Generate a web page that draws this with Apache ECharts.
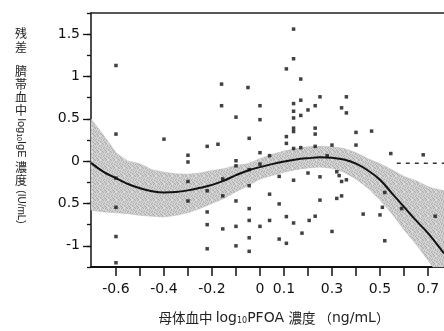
<!DOCTYPE html>
<html><head><meta charset="utf-8">
<script src="https://cdn.jsdelivr.net/npm/echarts@6/dist/echarts.min.js"></script>
<style>html,body{margin:0;padding:0;background:#fff}#c{width:444px;height:331px}</style>
</head><body><div id="c"></div>
<script>
// ---- axis ticks / labels ----
const xTickValues = [-0.6,-0.5,-0.4,-0.3,-0.2,-0.1,0,0.1,0.2,0.3,0.4,0.5,0.6,0.7];
const xLabelValues = [-0.6,-0.4,-0.2,0,0.1,0.3,0.5,0.7];
const xLabelTexts = ['-0.6','-0.4','-0.2','0','0.1','0.3','0.5','0.7'];
const yMinorTickValues = [-1.25,-1,-0.75,-0.5,-0.25,0,0.25,0.5,0.75,1,1.25,1.5,1.75];
const yLabelValues = [-1,-0.5,0,0.5,1,1.5];
const yLabelTexts = ['-1','0.5','0','0.5','1','1.5'];

// ---- scatter points (residuals) ----
const pointsX = [-0.60,-0.60,-0.40,0.14,0.14,0.11,0.17,-0.16,-0.05,0.25,0.36,0.14,0.17,0.23,-0.16,0.00,0.14,0.20,0.17,-0.10,0.00,0.14,0.34,0.36,0.14,0.14,0.23,0.23,-0.045,0.11,0.40,0.465,-0.30,-0.30,-0.22,-0.175,0.11,0.00,0.04,0.14,0.17,0.23,0.30,0.40,0.545,0.68,0.28,
  -0.10,-0.10,0.00,-0.045,0.08,0.14,0.20,0.25,-0.045,0.32,0.33,0.34,0.36,-0.60,-0.30,-0.155,-0.22,-0.60,-0.30,
  -0.22,-0.22,-0.60,-0.22,-0.60,-0.155,-0.10,-0.10,-0.045,-0.045,-0.045,-0.045,-0.10,-0.155,0.04,0.08,0.25,0.11,0.04,0.23,0.205,0.00,0.14,0.175,0.08,0.11,0.32,0.34,0.51,0.43,0.50,0.30,0.52,0.59,0.73,0.52];
const pointsY = [1.13,0.32,0.26,1.56,1.21,1.09,0.97,0.91,0.87,0.76,0.76,0.68,0.72,0.655,0.655,0.655,0.59,0.605,0.54,0.52,0.49,0.51,0.63,0.57,0.39,0.35,0.39,0.32,0.27,0.29,0.34,0.355,0.07,-0.01,0.175,0.20,0.21,0.10,0.065,0.15,0.16,0.175,0.19,0.19,0.09,0.075,0.065,
  0.005,-0.055,-0.035,-0.10,-0.18,-0.225,-0.14,-0.185,-0.29,-0.125,-0.17,-0.24,-0.22,-0.20,-0.24,-0.21,-0.35,-0.545,-0.47,
  -0.60,-0.75,-0.89,-1.035,-1.20,-0.80,-0.77,-1.00,-0.56,-0.70,-0.905,-1.065,-0.47,-0.41,-0.39,-0.505,-0.46,-0.655,-0.70,-0.65,-0.70,-0.77,-0.73,-0.85,-0.92,-0.97,-0.44,-0.41,-0.545,-0.625,-0.635,-0.83,-0.94,-0.56,-0.65,-0.37];

// ---- fitted curve ----
const curveX = [-0.704,-0.65,-0.60,-0.55,-0.50,-0.45,-0.40,-0.35,-0.30,-0.25,-0.20,-0.15,-0.10,-0.05,0.00,0.05,0.10,0.15,0.20,0.25,0.30,0.35,0.40,0.45,0.50,0.55,0.60,0.65,0.70,0.7667];
const curveY = [-0.02,-0.13,-0.20,-0.27,-0.32,-0.355,-0.37,-0.365,-0.345,-0.315,-0.28,-0.23,-0.165,-0.11,-0.07,-0.035,-0.005,0.02,0.035,0.045,0.04,0.02,-0.03,-0.11,-0.22,-0.38,-0.54,-0.70,-0.85,-1.09];

// ---- confidence band ----
const bandX = [-0.704,-0.65,-0.60,-0.55,-0.50,-0.45,-0.40,-0.35,-0.30,-0.25,-0.20,-0.15,-0.10,-0.05,0.00,0.05,0.10,0.15,0.20,0.25,0.30,0.35,0.40,0.45,0.50,0.55,0.60,0.65,0.70,0.72,0.7667];
const bandUpper = [0.50,0.30,0.10,0.00,-0.03,-0.10,-0.13,-0.15,-0.155,-0.14,-0.11,-0.09,-0.05,-0.03,0.03,0.08,0.12,0.15,0.17,0.175,0.17,0.15,0.10,0.03,-0.03,-0.10,-0.18,-0.23,-0.30,-0.32,-0.35];
const bandLower = [-0.58,-0.60,-0.61,-0.62,-0.64,-0.65,-0.66,-0.64,-0.61,-0.56,-0.50,-0.44,-0.36,-0.29,-0.21,-0.17,-0.13,-0.10,-0.08,-0.07,-0.085,-0.13,-0.21,-0.32,-0.46,-0.62,-0.81,-0.98,-1.17,-1.25,-1.25];

// ---- dashed segment ----
const dashX = [0.57,0.7667];
const dashY = [-0.025,-0.025];

const X_MIN = -0.704, X_MAX = 0.7667, Y_MIN = -1.25, Y_MAX = 1.75;
const numFont = 'DejaVu Sans';
const cjkFont = 'Noto Sans CJK JP';

function near(a,b){return Math.abs(a-b)<1e-6;}

// stipple texture for the band (fixed 8x8 tile, deterministic layout)
const tile = document.createElement('canvas');
tile.width = 8; tile.height = 8;
(function(){
  const g = tile.getContext('2d');
  const shades = ['#dcdcdc','#c4c4c4','#acacac','#d0d0d0'];
  const map = [
    '02130312','31020230','10321023','23103201',
    '03210132','20132310','12031203','31200321'];
  for (let y=0;y<8;y++) for (let x=0;x<8;x++){ g.fillStyle = shades[+map[y][x]]; g.fillRect(x,y,1,1); }
})();

const chart = echarts.init(document.getElementById('c'), null, {renderer:'canvas'});

const yTitle = [];
const cjkParts = [['残',33],['差',47],['臍',71],['帯',84],['血',97],['中',110],['濃',167],['度',180]];
cjkParts.forEach(p=>yTitle.push({type:'text', x:21, y:p[1], style:{text:p[0], font:'12px "'+cjkFont+'"', fill:'#222', align:'center', verticalAlign:'middle'}}));
yTitle.push({type:'text', x:21, y:138, rotation:-Math.PI/2, style:{text:'log{s|10}IgE', font:'11px "Liberation Sans"', fill:'#222', align:'center', verticalAlign:'middle', rich:{s:{fontSize:7, fontFamily:'Liberation Sans', fill:'#222', padding:[5,0,0,0]}}}});
yTitle.push({type:'text', x:21, y:207, rotation:-Math.PI/2, style:{text:'(IU/mL)', font:'10px "Liberation Sans"', fill:'#222', align:'center', verticalAlign:'middle'}});

const option = {
  animation:false,
  backgroundColor:'#fff',
  grid:{left:91, right:0, top:13, bottom:64, show:false},
  xAxis:[{
    type:'value', min:X_MIN, max:X_MAX, position:'bottom',
    axisLine:{show:true, onZero:false, lineStyle:{color:'#111', width:2}},
    axisTick:{show:true, customValues:xTickValues, length:9, lineStyle:{color:'#111', width:1.5}},
    axisLabel:{show:true, customValues:xLabelValues, margin:15, fontFamily:numFont, fontSize:14, color:'#111',
      formatter:v=>{const i=xLabelValues.findIndex(t=>near(t,v));return i>=0?xLabelTexts[i]:'';}},
    splitLine:{show:false}
  },{
    type:'value', min:X_MIN, max:X_MAX, position:'top',
    axisLine:{show:true, onZero:false, lineStyle:{color:'#222', width:1.5}},
    axisTick:{show:false}, axisLabel:{show:false}, splitLine:{show:false}
  }],
  yAxis:[{
    type:'value', min:Y_MIN, max:Y_MAX, position:'left',
    axisLine:{show:true, onZero:false, lineStyle:{color:'#111', width:1.5}},
    axisTick:{show:true, customValues:yMinorTickValues, length:4, lineStyle:{color:'#111', width:1.3}},
    axisLabel:{show:true, customValues:yLabelValues, margin:11, fontFamily:numFont, fontSize:14, color:'#111',
      formatter:v=>{const i=yLabelValues.findIndex(t=>near(t,v));return i>=0?yLabelTexts[i]:'';}},
    splitLine:{show:false}
  },{
    type:'value', min:Y_MIN, max:Y_MAX, position:'left', offset:0,
    axisLine:{show:false, onZero:false},
    axisTick:{show:true, customValues:yLabelValues, length:8, lineStyle:{color:'#111', width:1.3}},
    axisLabel:{show:false}, splitLine:{show:false}
  }],
  graphic:[
    {type:'group', children:yTitle},
    {type:'text', x:274, y:318, style:{text:'{c|母体血中 }{l|log}{s|10}{l|PFOA }{c|濃度 （}{l|ng/mL}{c|）}', align:'center', verticalAlign:'middle', fill:'#222',
      rich:{c:{fontFamily:cjkFont, fontSize:13.5, fill:'#222'}, l:{fontFamily:numFont, fontSize:14, fill:'#222'}, s:{fontFamily:numFont, fontSize:8, fill:'#222', padding:[6,0,0,0]}}}}
  ],
  series:[{
    type:'custom', xAxisIndex:0, yAxisIndex:0, z:1, silent:true,
    data: bandX.map((x,i)=>[x,bandUpper[i],bandLower[i]]),
    encode:{x:0, y:[1,2]},
    renderItem:function(params, api){
      if (params.dataIndex !== 0) return null;
      const pts=[];
      for (let i=0;i<bandX.length;i++) pts.push(api.coord([bandX[i], bandUpper[i]]));
      for (let i=bandX.length-1;i>=0;i--) pts.push(api.coord([bandX[i], bandLower[i]]));
      return {type:'polygon', shape:{points:pts}, style:{fill:{image:tile, repeat:'repeat'}, stroke:'#b8b8b8', lineWidth:0.5}};
    }
  },{
    type:'line', z:2, data: dashX.map((x,i)=>[x,dashY[i]]), showSymbol:false, symbol:'none',
    lineStyle:{color:'#333', width:1.5, type:[4,5]}
  },{
    type:'line', z:3, data: curveX.map((x,i)=>[x,curveY[i]]), smooth:0.4, showSymbol:false, symbol:'none',
    lineStyle:{color:'#111', width:2}
  },{
    type:'scatter', z:4, data: pointsX.map((x,i)=>[x,pointsY[i]]), symbol:'rect', symbolSize:3.5,
    itemStyle:{color:'#111'}
  }]
};
chart.setOption(option);
</script></body></html>
